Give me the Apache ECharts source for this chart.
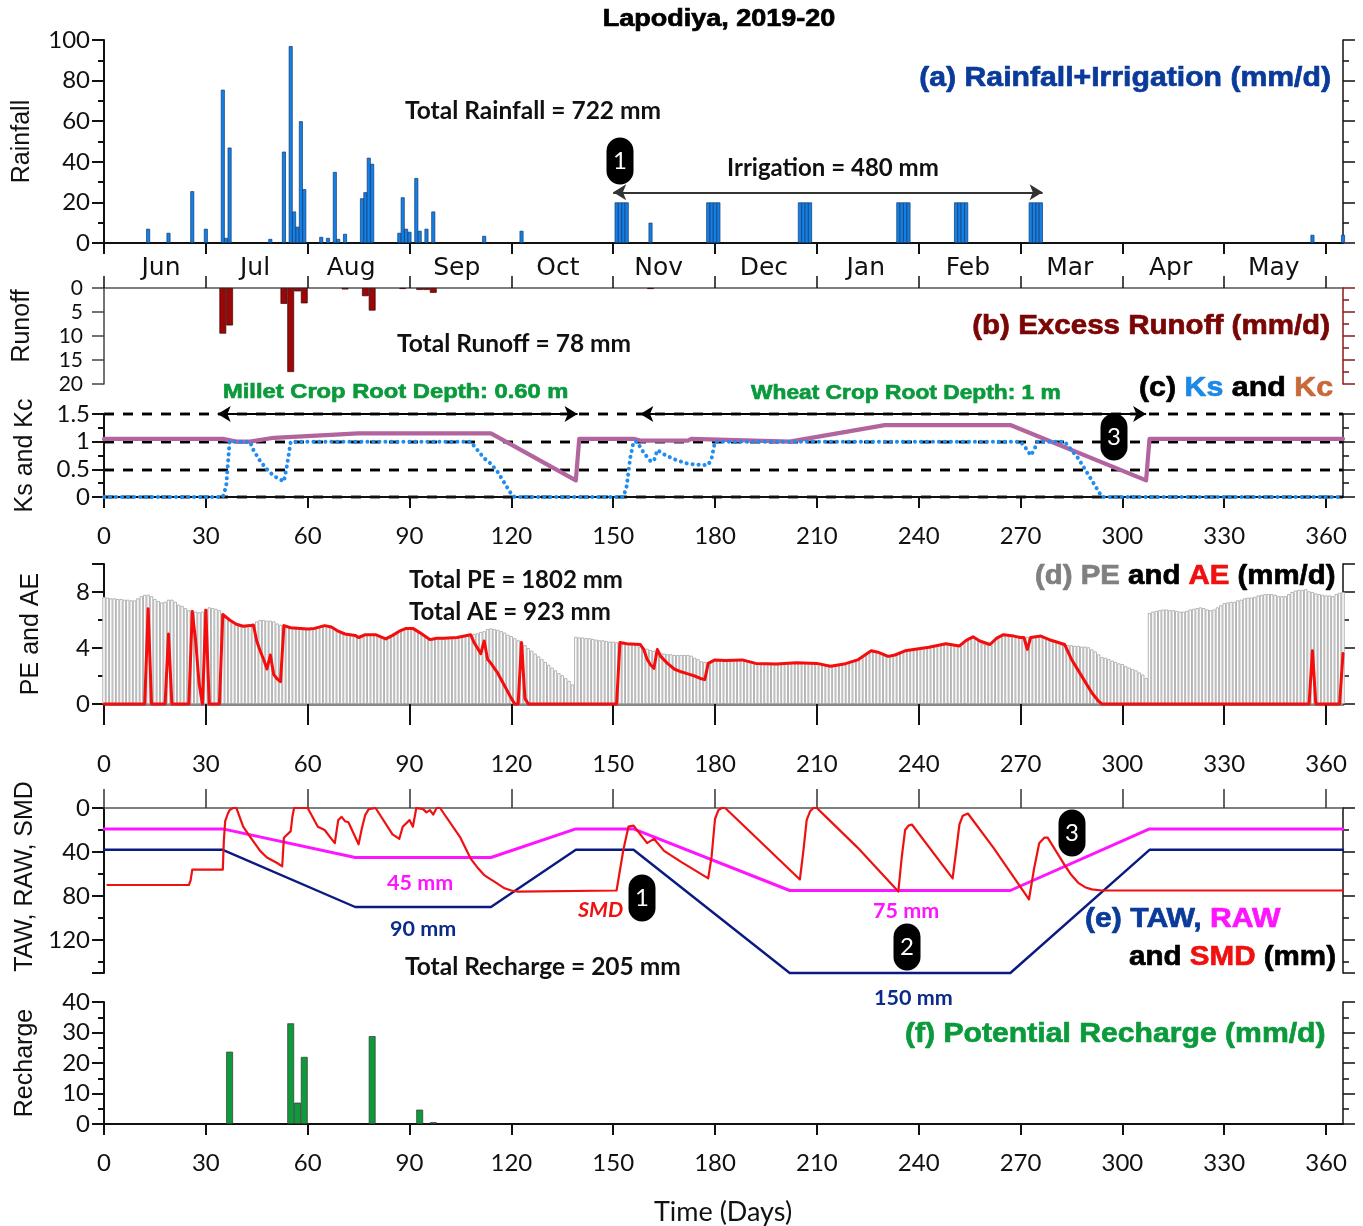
<!DOCTYPE html>
<html><head><meta charset="utf-8">
<style>html,body{margin:0;padding:0;background:#fff}#c{width:1363px;height:1226px}</style>
<script src="https://cdn.jsdelivr.net/npm/echarts@6/dist/echarts.min.js"></script>
</head><body><div id="c"></div>
<script>
// ---------- data ----------
const rainfall = [[13,7],[19,5],[26,25.5],[30,7],[35,75.5],[36,2.5],[37,47],[49,2],[53,45],[55,97],[56,15.5],[57,8],[58,60],[59,26.5],[64,3],[66,2.5],[68,35],[69,2],[71,4.5],[76,22],[77,25],[78,42],[79,39],[87,5],[88,22.5],[89,7],[90,5.5],[92,32],[93,6],[95,7],[97,15.5],[112,3.5],[123,6],[161,10],[356,4],[365,4]];
const irrigation = [[151,20],[152,20],[153,20],[154,20],[178,20],[179,20],[180,20],[181,20],[205,20],[206,20],[207,20],[208,20],[234,20],[235,20],[236,20],[237,20],[251,20],[252,20],[253,20],[254,20],[273,20],[274,20],[275,20],[276,20]];
const runoff = [[35,9.5],[37,7.8],[53,3.3],[55,17.5],[57,0.7],[59,3.2],[71,0.3],[77,1.7],[79,4.7],[88,0.2],[93,0.4],[95,0.4],[97,1],[161,0.2]];
const kc = [[0,1.05],[35,1.05],[39,1],[43,1],[50,1.07],[75,1.15],[114,1.15],[139,0.3],[140,1.05],[156,1.05],[158,1.02],[172,1.02],[173,1.05],[202,1],[230,1.3],[267,1.3],[307,0.3],[308,1.05],[365,1.05]];
const ks = [[0,0],[35,0],[36,0.2],[37,1],[43,1],[44,0.85],[46,0.65],[48,0.5],[50,0.38],[53,0.28],[54,0.6],[55,1],[108,1],[110,0.85],[112,0.7],[114,0.6],[116,0.45],[118,0.25],[120,0.05],[121,0],[153,0],[154,0.2],[155,0.7],[156,1],[157,1],[159,0.8],[161,0.65],[162,0.65],[163,0.85],[165,0.77],[168,0.68],[172,0.6],[176,0.58],[178,0.58],[179,0.7],[180,1],[270,1],[272,0.85],[273,0.75],[274,0.85],[275,1],[283,1],[285,0.85],[287,0.7],[289,0.5],[291,0.3],[293,0.1],[294,0],[365,0]];
const pe = [7.65,7.6,7.55,7.55,7.5,7.5,7.45,7.45,7.4,7.4,
7.55,7.7,7.8,7.8,7.7,7.5,7.35,7.25,7.3,7.45,
7.45,7.3,7.1,7,6.85,6.7,6.7,6.6,6.55,6.6,
6.8,6.9,6.85,6.8,6.7,6.4,6.2,6,5.85,5.7,
5.6,5.55,5.55,5.6,5.65,5.9,6,6,5.95,5.95,
5.9,5.75,5.65,5.6,5.5,5.45,5.4,5.4,5.4,5.4,
5.35,5.4,5.4,5.45,5.5,5.6,5.55,5.5,5.35,5.2,
5.05,5,5,4.95,4.9,4.75,4.8,4.95,4.95,4.95,
4.95,4.85,4.7,4.65,4.75,4.9,5.05,5.2,5.3,5.4,
5.4,5.4,5.3,5.1,4.95,4.75,4.6,4.6,4.7,4.75,
4.7,4.75,4.75,4.75,4.75,4.8,4.85,4.9,4.95,5,
5.05,5.15,5.2,5.35,5.4,5.35,5.3,5.2,5.1,4.95,
4.85,4.7,4.55,4.4,4.2,4,3.8,3.6,3.4,3.2,
3,2.8,2.6,2.4,2.2,2.05,1.85,1.65,1.4,4.8,
4.75,4.75,4.7,4.7,4.65,4.6,4.55,4.55,4.5,4.45,
4.45,4.4,4.35,4.3,4.3,4.25,4.25,4.2,4.1,4,
3.95,3.85,3.8,3.7,3.65,3.6,3.55,3.55,3.5,3.5,
3.5,3.5,3.5,3.45,3.3,3.2,3.05,3,3,3.1,
3.15,3.15,3.15,3.1,3.1,3.1,3.15,3.15,3.15,3.1,
3,2.95,2.9,2.85,2.85,2.85,2.85,2.85,2.85,2.85,
2.85,2.9,2.9,2.95,2.95,2.95,2.95,2.95,2.95,2.95,
2.9,2.85,2.8,2.75,2.7,2.7,2.75,2.8,2.85,2.95,
3,3.05,3.15,3.3,3.45,3.65,3.8,3.8,3.7,3.55,
3.45,3.4,3.4,3.5,3.65,3.75,3.8,3.85,3.9,3.9,
3.95,4,4.05,4.05,4.1,4.15,4.2,4.3,4.3,4.25,
4.2,4.15,4.15,4.3,4.55,4.75,4.8,4.7,4.5,4.3,
4.25,4.25,4.4,4.7,4.9,4.95,4.95,4.9,4.85,4.8,
4.75,4.75,4.8,4.8,4.8,4.85,4.85,4.75,4.7,4.55,
4.45,4.35,4.25,4.25,4.2,4.2,4.15,4.15,4.1,4.1,
4.05,3.9,3.75,3.55,3.35,3.3,3.2,3.1,3,2.9,
2.85,2.7,2.6,2.5,2.4,2.25,2.1,1.85,6.5,6.6,
6.65,6.7,6.75,6.75,6.7,6.7,6.65,6.6,6.6,6.65,
6.75,6.8,6.85,6.9,6.85,6.75,6.7,6.75,6.9,7.05,
7.2,7.25,7.3,7.3,7.4,7.45,7.55,7.6,7.6,7.65,
7.75,7.8,7.85,7.85,7.85,7.8,7.7,7.7,7.7,7.85,
8,8.1,8.15,8.15,8.2,8.05,8,7.9,7.85,7.8,
7.75,7.75,7.7,7.85,7.95,8];
const ae = [[0,0],[12,0],[13,6.8],[14,0],[18,0],[19,5],[20,0],[25,0],[26,6.6],[27,4.5],[28,1.5],[29,0],[30,6.7],[31,0],[34,0],[35,6.4],[37,6],[39,5.7],[41,5.55],[43,5.6],[44,5.65],[45,4.5],[46,3.8],[47,3.2],[48,2.5],[49,3.5],[50,2.1],[51,1.8],[52,1.6],[53,5.6],[55,5.45],[58,5.4],[60,5.35],[62,5.4],[65,5.6],[67,5.5],[69,5.2],[71,5],[74,4.9],[75,4.75],[77,4.95],[80,4.95],[83,4.65],[85,4.9],[87,5.2],[89,5.4],[91,5.4],[93,5.1],[96,4.6],[98,4.7],[100,4.7],[104,4.75],[108,4.95],[109,4.4],[110,4],[111,3.6],[112,4.5],[113,3.2],[114,2.9],[116,2.2],[118,1.3],[120,0.4],[121,0],[122,0],[123,4.4],[124,0.4],[125,0],[151,0],[152,4.4],[154,4.3],[158,4.25],[159,3.9],[160,3.2],[161,2.8],[162,2.55],[163,3.9],[164,3.4],[166,2.9],[168,2.5],[170,2.3],[172,2.15],[174,2],[176,1.8],[177,1.75],[178,2.9],[180,3.15],[183,3.1],[188,3.15],[192,2.9],[198,2.85],[204,2.95],[210,2.9],[214,2.7],[218,2.85],[222,3.15],[226,3.8],[228,3.7],[231,3.4],[233,3.5],[236,3.8],[240,3.95],[243,4.05],[248,4.3],[252,4.15],[254,4.55],[256,4.8],[258,4.5],[261,4.25],[263,4.7],[265,4.95],[268,4.85],[270,4.75],[271,4.75],[272,3.9],[273,4.75],[276,4.85],[279,4.55],[283,4.25],[285,3.2],[287,2.4],[289,1.6],[291,0.8],[293,0.2],[294,0],[355,0],[356,3.8],[357,0],[364,0],[365,3.6]];
const taw = [[0,38],[35,38],[74,90],[114,90],[139,38],[156,38],[202,150],[267,150],[308,38],[365,38]];
const raw = [[0,19],[35,19],[74,45],[114,45],[139,19],[156,19],[202,75],[267,75],[308,19],[365,19]];
const smd = [[1,70],[25,70],[25.5,66],[26,56],[35,56],[35.3,30],[35.7,12],[36.5,5],[37,2],[38,0],[39,0],[41,17],[43,26],[46,39],[48,45],[51,50],[52.5,53],[53,27],[55,21],[55.5,8],[56,0],[60,0],[63,17],[65,20],[67,28],[68,32],[69,11],[70,8],[71,12],[72,13],[75,33],[76,18],[77,6],[78,1],[80,0],[85,24],[87,28],[88,17],[90,11],[91,17],[92,0],[94,1],[95,4],[96,2],[97,6],[98,0],[99,0],[105,27],[108,46],[110,54],[112,61],[113,63],[115,67],[118,73],[120,75],[122,76],[151,75],[153,38],[154.5,17],[156,16],[160,32],[162,28],[165,39],[170,49],[178,64],[179,44],[180,10],[181,2],[182,0],[183,0],[205,65],[206,40],[207,11],[208,3],[209,0],[210,0],[213,9],[222,36],[234,76],[235,45],[236,20],[237,16],[238,15],[250,64],[251,40],[252,15],[253,7],[254.5,5],[262,36],[272.5,83],[274,55],[275.5,32],[277,27],[278,27],[283,52],[285,61],[287,68],[289,72],[291,74],[294,75],[365,75]];
const recharge = [[37,23.7],[55,33],[57,7],[59,22],[79,28.8],[93,4.7],[97,0.6]];
const monthNames = ['Jun','Jul','Aug','Sep','Oct','Nov','Dec','Jan','Feb','Mar','Apr','May'];
const monthCentres = [16.8,44.5,72.8,103.9,133.7,163.4,194.4,224.4,254.5,284.5,314.2,344.6];
const dayTicks = [0,30,60,90,120,150,180,210,240,270,300,330,360];

// ---------- layout ----------
const L = 104, W = 1239;
const NUM = 'Lato', HEAD = '"Liberation Sans"';
const panels = [
 {top:40, h:203},{top:288, h:96},{top:414, h:83},{top:564, h:140},{top:808, h:165},{top:1002, h:122}
];
function xAx(i,o){
  return Object.assign({gridIndex:i,type:'value',min:0,max:365,interval:30,
    axisLine:{onZero:false,lineStyle:{color:'#111',width:2}},
    axisTick:{customValues:dayTicks,length:11,lineStyle:{color:'#111',width:2}},
    minorTick:{show:false},splitLine:{show:false},axisLabel:{show:false}},o);
}
function yAx(i,o,right){
  const c = right ? (o.rightColor||'#111') : (o.axisColor||'#111');
  const w = (right||o.thin) ? 1.5 : 2;
  const base = {gridIndex:i,type:'value',position:right?'right':'left',min:o.min,max:o.max,interval:o.interval,inverse:!!o.inverse,
    axisLine:{show:true,onZero:false,lineStyle:{color:c,width:w}},
    axisTick:{show:true,length:12,lineStyle:{color:c,width:w}},
    minorTick:{show:!!o.minor||o.minor===undefined,splitNumber:o.minor||2,length:6,lineStyle:{color:c,width:w}},
    splitLine:{show:false},
    axisLabel:{show:!right,margin:o.lm||14,showMinLabel:true,showMaxLabel:!o.hideMax,fontFamily:NUM,fontSize:o.fs||24,color:'#111'}};
  if(right && o.rightMinor){base.minorTick.show=true;base.minorTick.splitNumber=o.rightMinor;}
  if(!right && o.name){
    base.name=o.name;base.nameLocation='middle';base.nameGap=o.gap;
    base.nameTextStyle={fontFamily:HEAD,fontSize:25,color:'#111',padding:o.pad||0};
  }
  if(o.dash){base.splitLine={show:true,lineStyle:{type:[10,9],color:'#000',width:2.4}};}
  return base;
}
const yDefs = [
 {min:0,max:100,interval:20,name:'Rainfall',gap:69},
 {min:0,max:20,interval:5,inverse:true,name:'Runoff',gap:69,minor:0,pad:[0,0,0,20],axisColor:'#444',rightColor:'#8b1a1a',rightMinor:2,thin:true,fs:21,lm:21},
 {min:0,max:1.5,interval:0.5,name:'Ks and Kc',gap:66,dash:true},
 {min:0,max:10,interval:4,name:'PE and AE',gap:60,hideMax:true},
 {min:0,max:150,interval:40,inverse:true,name:'TAW, RAW, SMD',gap:65,pad:[0,0,0,28],hideMax:true},
 {min:0,max:40,interval:10,name:'Recharge',gap:66}
];

const xAxes = [
 xAx(0,{position:'bottom',axisLabel:{show:true,customValues:monthCentres,margin:13,fontFamily:'"DejaVu Sans"',fontSize:25,color:'#111',
   formatter:v=>monthNames[monthCentres.indexOf(v)]}}),
 xAx(1,{position:'top',axisLine:{onZero:false,lineStyle:{color:'#555',width:1.5}},axisTick:{customValues:dayTicks,length:12,lineStyle:{color:'#111',width:1.5}}}),
 xAx(2,{position:'bottom',axisLabel:{show:true,customValues:dayTicks,margin:27,fontFamily:NUM,fontSize:24,color:'#111'}}),
 xAx(3,{position:'bottom',axisLine:{onZero:false,lineStyle:{color:'#888',width:3}},axisTick:{customValues:dayTicks,length:21,lineStyle:{color:'#111',width:2}}}),
 xAx(4,{position:'top',axisLine:{onZero:false,lineStyle:{color:'#555',width:1.5}},axisTick:{customValues:dayTicks,length:19,lineStyle:{color:'#333',width:1.5}},
   axisLabel:{show:true,customValues:dayTicks,margin:32,fontFamily:NUM,fontSize:24,color:'#111'}}),
 xAx(5,{position:'bottom',axisLabel:{show:true,customValues:dayTicks,margin:27,fontFamily:NUM,fontSize:24,color:'#111'}})
];
const yAxes = [];
yDefs.forEach((d,i)=>yAxes.push(yAx(i,d,false)));
yDefs.forEach((d,i)=>yAxes.push(yAx(i,d,true)));

function bar(i,data,w,fill,border,bw,z){
  return {type:'bar',xAxisIndex:i,yAxisIndex:i,data,barWidth:w,z:z||2,silent:true,clip:false,
    itemStyle:{color:fill,borderColor:border,borderWidth:bw}};
}
function line(i,data,color,width,z,type){
  return {type:'line',xAxisIndex:i,yAxisIndex:i,data,symbol:'none',smooth:false,z:z||3,silent:true,clip:false,
    lineStyle:{color,width,type:type||'solid',cap:'round',join:'round'}};
}
function arrow(i,y,x0,x1,c,w){
  return {type:'line',xAxisIndex:i,yAxisIndex:i,data:[],silent:true,z:5,
    markLine:{silent:true,symbol:['arrow','arrow'],symbolSize:[12,13],label:{show:false},animation:false,
      lineStyle:{color:c,width:w,type:'solid'},data:[[{coord:[x0,y]},{coord:[x1,y]}]]}};
}
const series = [
  bar(0,rainfall.concat(irrigation),3.9,'#1280e6','#123a6e',0.7),
  arrow(0,25,150,276.5,'#333',1.8),
  bar(1,runoff,6.8,'#9c0606','#3a0808',0.7),
  line(2,kc,'#b2649f',4.2,4),
  line(2,ks,'#1e8cf0',4,5,[0.1,5.9]),
  arrow(2,1.5,33.5,139.5,'#000',1.8),
  arrow(2,1.5,158,307,'#000',1.8),
  bar(3,pe.map((v,d)=>[d,v]),3.39,'#ffffff','#aaaaaa',0.9),
  line(3,ae,'#f50d0d',3,4),
  line(4,taw,'#0b1a80',2.4,3),
  line(4,raw,'#ff14ff',3,4),
  line(4,smd,'#ee1111',2.2,5),
  bar(5,recharge,6.8,'#0e9a3a','#333',0.7)
];

// ---------- annotations ----------
const T = (x,y,text,font,color,align,sx,extra)=>({type:'text',x,y,z:20,silent:true,scaleX:sx||1,
  style:Object.assign({text,font,fill:color,align:align||'left',verticalAlign:'middle'},extra||{})});
const BIG = 'bold 28px "Liberation Sans"';
const NOTE = 'bold 24.5px Lato';
const heavy = (c)=>({stroke:c,lineWidth:0.7});
const col = (c)=>({fill:c,font:BIG,stroke:c,lineWidth:0.7});
const notes = [
 T(719,19,'Lapodiya, 2019-20','bold 24px "Liberation Sans"','#000','center',1.125,heavy('#000')),
 T(1331,78,'(a) Rainfall+Irrigation (mm/d)',BIG,'#0a3a9a','right',1.078,heavy('#0a3a9a')),
 T(405,111,'Total Rainfall = 722 mm',NOTE,'#111'),
 T(727,168,'Irrigation = 480 mm','bold 24px Lato','#111'),
 T(1330,326,'(b) Excess Runoff (mm/d)',BIG,'#7a0505','right',1.055,heavy('#7a0505')),
 T(397,344,'Total Runoff = 78 mm',NOTE,'#111'),
 T(223,392,'Millet Crop Root Depth: 0.60 m','bold 21px "Liberation Sans"','#0a9a3c','left',1.13,heavy('#0a9a3c')),
 T(751,393,'Wheat Crop Root Depth: 1 m','bold 21px "Liberation Sans"','#0a9a3c','left',1.084,heavy('#0a9a3c')),
 T(1139,388,'{k|(c) }{b|Ks}{k| and }{o|Kc}',BIG,'#000','left',1.085,{rich:{k:col('#000'),b:col('#1e88e5'),o:col('#c8693a')}}),
 T(1035,576,'{g|(d) PE}{k| and }{r|AE}{k| (mm/d)}',BIG,'#000','left',1.05,{rich:{k:col('#000'),g:col('#808080'),r:col('#f01010')}}),
 T(409,580,'Total PE = 1802 mm','bold 24px Lato','#111'),
 T(409,612,'Total AE = 923 mm','bold 24px Lato','#111'),
 T(387,883,'45 mm','bold 21.5px Lato','#ff14ff'),
 T(390,929,'90 mm','bold 21.5px Lato','#0b2a8a'),
 T(578,910,'SMD','italic bold 21.5px Lato','#ee1111'),
 T(873,911,'75 mm','bold 21.5px Lato','#ff14ff'),
 T(874,998,'150 mm','bold 21.5px Lato','#0b2a8a'),
 T(405,967,'Total Recharge = 205 mm',NOTE,'#111'),
 T(1085,919,'{n|(e) TAW, }{m|RAW}',BIG,'#000','left',1.077,{rich:{n:col('#0a3a9a'),m:col('#ff14ff')}}),
 T(1129,957,'{k|and }{r|SMD}{k| (mm)}',BIG,'#000','left',1.056,{rich:{k:col('#000'),r:col('#f01010')}}),
 T(905,1034,'(f) Potential Recharge (mm/d)',BIG,'#0a9a3c','left',1.077,heavy('#0a9a3c')),
 T(723,1212,'Time (Days)','27px Lato','#111','center')
];
const pills = [[620,161,'1'],[642,898,'1'],[907,947,'2'],[1114,437,'3'],[1072,833,'3']];
pills.forEach(([x,y,t])=>{
  notes.push({type:'rect',z:21,silent:true,shape:{x:x-13.5,y:y-23.5,width:27,height:47,r:13.5},style:{fill:'#000'}});
  const lbl = T(x,y,t,'24px Lato','#fff','center');
  lbl.z = 22;
  notes.push(lbl);
});

const chart = echarts.init(document.getElementById('c'),null,{renderer:'canvas'});
chart.setOption({
  animation:false,backgroundColor:'#fff',
  grid:panels.map(p=>({left:L,width:W,top:p.top,height:p.h,containLabel:false})),
  xAxis:xAxes,yAxis:yAxes,series,graphic:notes
});
</script></body></html>
